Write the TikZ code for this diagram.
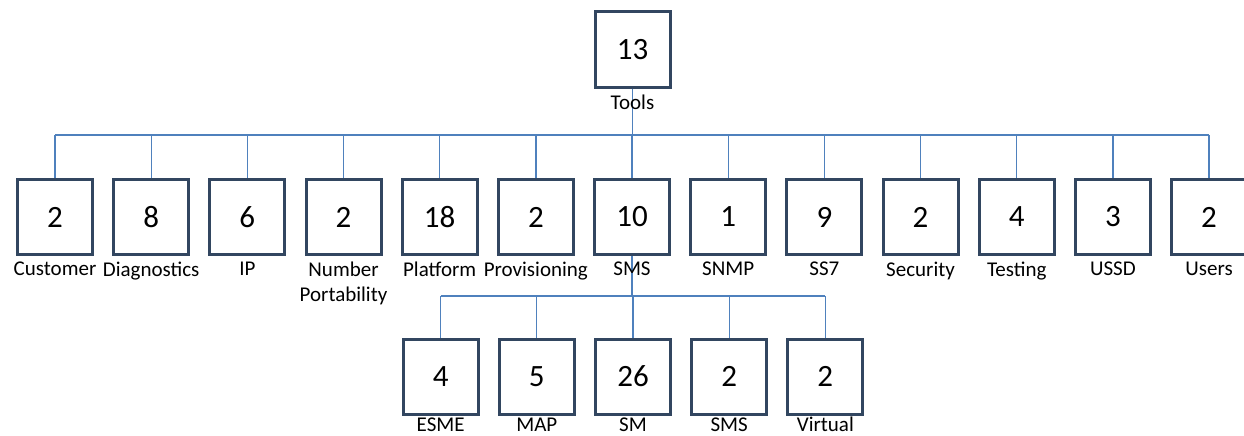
\documentclass[tikz,border=0pt]{standalone}
\usepackage{fontspec}
\setmainfont{Carlito}
\definecolor{boxline}{RGB}{50,70,96}
\definecolor{link}{RGB}{79,129,189}
\tikzset{
  x=1pt, y=-1pt,
  cnt/.style={draw=boxline, line width=3pt, fill=white, minimum width=75pt, minimum height=75pt,
              inner sep=0pt, font=\fontsize{31}{33}\selectfont},
  lbl/.style={font=\fontsize{21}{25}\selectfont, inner sep=0pt, align=center, anchor=north, yshift=-6pt},
  leaf/.style={font=\fontsize{21}{25}\selectfont, inner sep=0pt, anchor=base}
}
\tikzset{wire/.style={draw=link, line width=1.3pt}}
\begin{document}
\begin{tikzpicture}
\useasboundingbox (0,0) rectangle (1244,436);
% root
\node[cnt] (root) at (632.5,49.5) {13};
\coordinate (bus1) at (632.5,135);
% first level
\foreach \i/\n in {0/2,1/8,2/6,3/2,4/18,5/2,6/10,7/1,8/9,9/2,10/4,11/3,12/2}{
  \node[cnt] (c\i) at ({55+96.17*\i},217) {\n};
  \coordinate (t\i) at ({55+96.17*\i},135);
}
% second level under SMS
\foreach \i/\n in {0/4,1/5,2/26,3/2,4/2}{
  \node[cnt] (s\i) at ({632+96.17*(\i-2)+1},376.5) {\n};
  \coordinate (u\i) at ({632+96.17*(\i-2)+1},296);
}
% connectors
\draw[wire] (root.south) -- (bus1);
\draw[wire] (t0) -- (t12);
\foreach \i in {0,...,12}{ \draw[wire] (t\i) -- (c\i.north); }
\draw[wire] (c6.south) -- (c6.south |- u2);
\draw[wire] (u0) -- (u4);
\foreach \i in {0,...,4}{ \draw[wire] (u\i) -- (s\i.north); }
% labels
\node[lbl] (lroot) at (root.south) {Tools};
\foreach \i/\t in {0/Customer,1/Diagnostics,2/IP,3/{Number\\Portability},4/Platform,5/Provisioning,6/SMS,7/SNMP,8/SS7,9/Security,10/Testing,11/USSD,12/Users}{
  \node[lbl] (l\i) at (c\i.south) {\t};
}
\foreach \i/\t in {0/ESME,1/MAP,2/SM,3/SMS,4/Virtual}{
  \node[leaf] (m\i) at ([yshift=-16pt]s\i.south) {\t};
}
\end{tikzpicture}
\end{document}
